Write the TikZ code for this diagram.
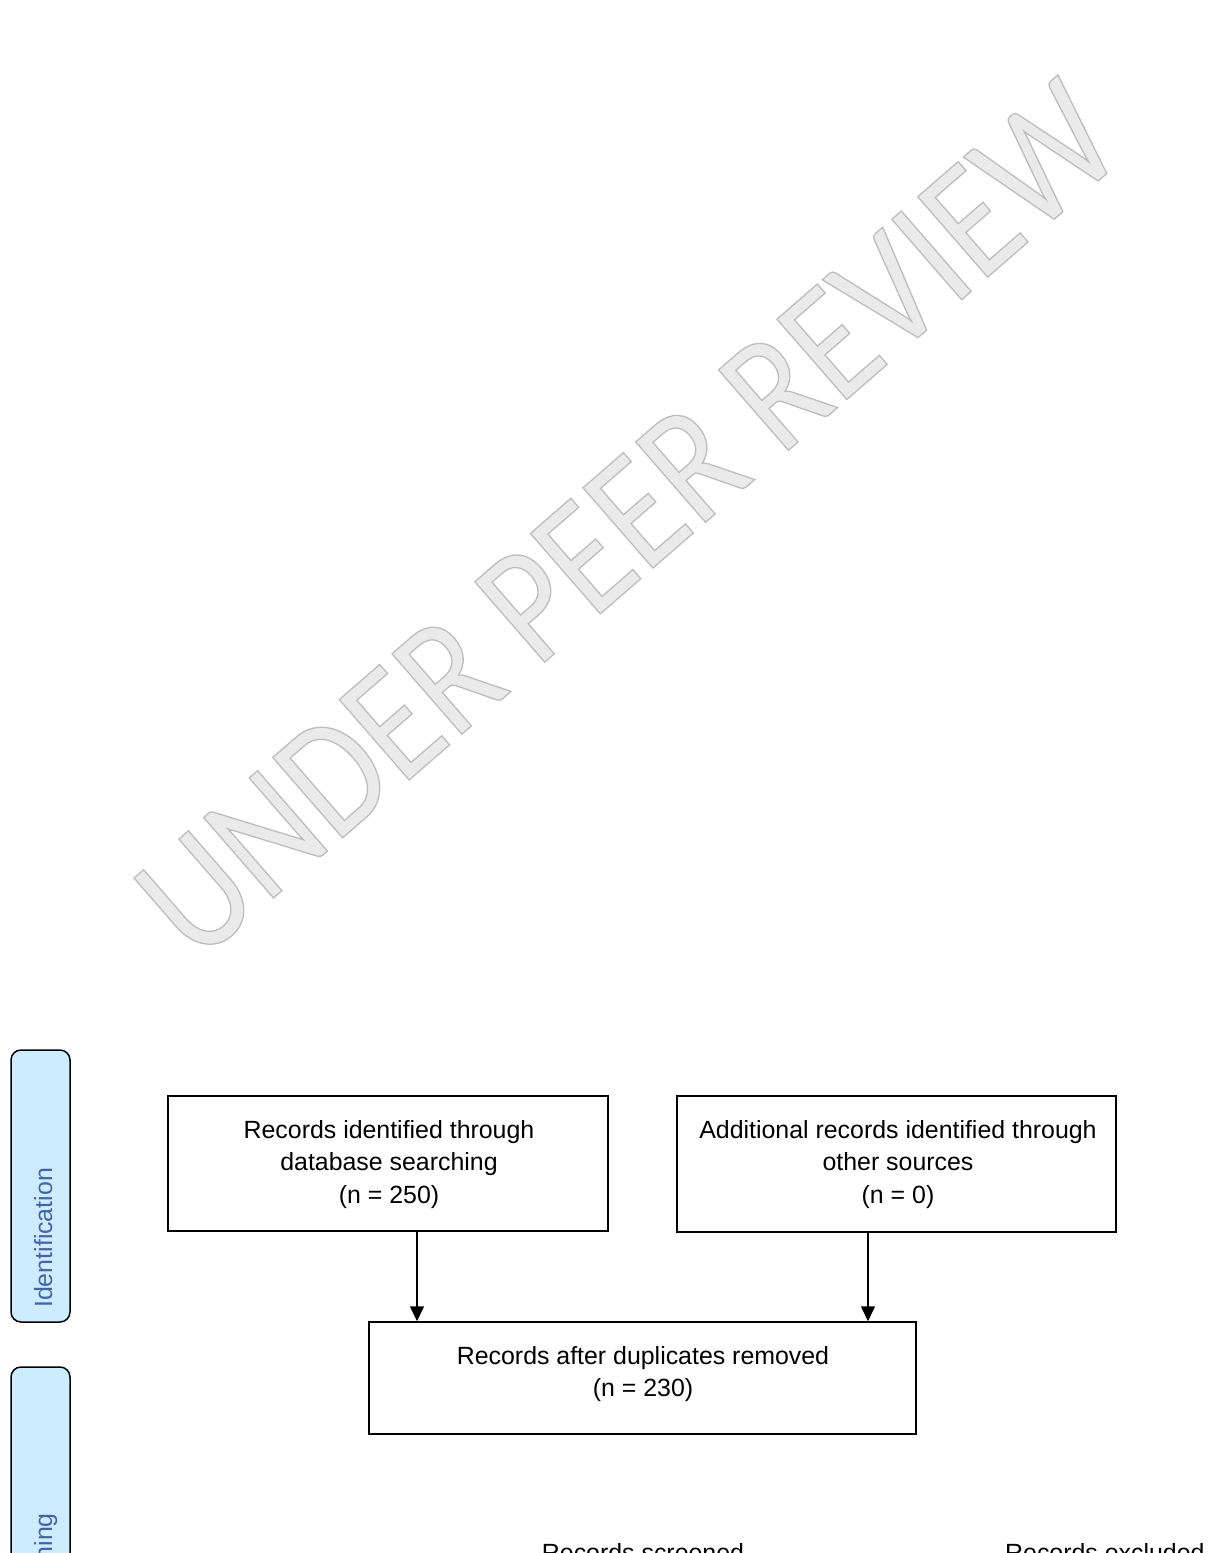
\documentclass[tikz,border=0pt]{standalone}
\usepackage{fontspec}
\setmainfont{Liberation Sans}
\newfontfamily\wmfont[FakeStretch=0.86]{Carlito}
\usetikzlibrary{arrows.meta}
\definecolor{lblfill}{RGB}{204,236,255}
\definecolor{lbltext}{RGB}{68,98,170}
\definecolor{wmfill}{RGB}{234,234,234}
\begin{document}
\begin{tikzpicture}[x=1pt,y=-1pt,
  box/.style={draw=black, line width=1.5pt, rectangle, inner sep=0pt},
  txt/.style={inner sep=0pt, align=center, font=\fontsize{24.9}{32.5}\selectfont},
  lbl/.style={draw=black, line width=1.5pt, fill=lblfill, rounded corners=10pt, inner sep=0pt},
  lbltxt/.style={text=lbltext, inner sep=0pt, rotate=90, font=\fontsize{24.9}{30}\selectfont},
  arr/.style={line width=1.5pt, -{Triangle[width=14pt,length=15pt]}}]
\useasboundingbox (0,0) rectangle (1211,1553);
\clip (0,0) rectangle (1211,1553);
% watermark
\node[rotate=41, inner sep=0pt, text=wmfill, font=\wmfont\fontsize{166}{166}\selectfont] (wm) at (628,520)
  {\special{pdf:literal direct 2 Tr 1.3 w 0.74 0.74 0.74 RG}UNDER PEER REVIEW\special{pdf:literal direct 0 Tr}};
% stage labels
\node[lbl, minimum width=59pt, minimum height=272pt] (idl) at (40.5,1186) {};
\node[lbltxt, anchor=base west] (idt) at (52,1308) {Identification};
\node[lbl, minimum width=59pt, minimum height=333pt] (scl) at (40.5,1533.5) {};
\node[lbltxt, anchor=base east] (sct) at (52,1513) {Screening};
% boxes
\node[box, minimum width=440pt, minimum height=135pt] (rdb) at (388,1163.5) {};
\node[txt, anchor=north] (rdbt) at (389,1120) {Records identified through\\database searching\\(n = 250)};
\node[box, minimum width=439pt, minimum height=136pt] (rother) at (896.5,1164) {};
\node[txt, anchor=north] (rothert) at (898,1120) {Additional records identified through\\other sources\\(n = 0)};
\node[box, minimum width=547pt, minimum height=112pt] (rdup) at (642.5,1378) {};
\node[txt, anchor=north] (rdupt) at (643,1346) {Records after duplicates removed\\(n = 230)};
% arrows
\draw[arr] ([xshift=29pt]rdb.south) -- ([xshift=29pt]rdb.south |- rdup.north);
\draw[arr] ([xshift=-28.5pt]rother.south) -- ([xshift=-28.5pt]rother.south |- rdup.north);
% next row (cut off)
\node[txt, anchor=base] (scr) at (643,1561) {Records screened};
\node[txt, anchor=base west] (exc) at (1005,1561) {Records excluded};
\end{tikzpicture}
\end{document}
